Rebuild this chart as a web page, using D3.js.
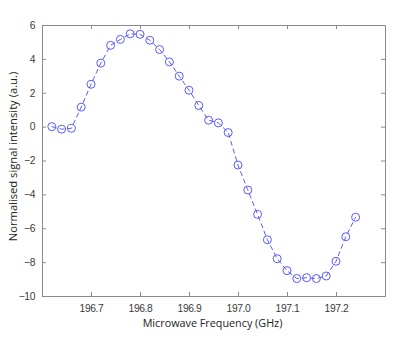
<!DOCTYPE html>
<html>
<head>
<meta charset="utf-8">
<script src="https://cdn.jsdelivr.net/npm/d3@7"></script>
<style>
  body { margin: 0; background: #fff; }
  svg { display: block; }
</style>
</head>
<body>
<svg id="main-svg" width="400" height="338"></svg>
<script>
// frequencies (GHz), sampled every 0.02
const freqs = [196.62, 196.64, 196.66, 196.68, 196.70, 196.72, 196.74, 196.76, 196.78, 196.80,
  196.82, 196.84, 196.86, 196.88, 196.90, 196.92, 196.94, 196.96, 196.98, 197.00,
  197.02, 197.04, 197.06, 197.08, 197.10, 197.12, 197.14, 197.16, 197.18, 197.20,
  197.22, 197.24];
// normalised signal (a.u.)
const signal = [0.0, -0.15, -0.1, 1.15, 2.5, 3.75, 4.8, 5.15, 5.48, 5.45,
  5.1, 4.55, 3.82, 2.98, 2.15, 1.25, 0.38, 0.22, -0.35, -2.27,
  -3.74, -5.18, -6.68, -7.8, -8.5, -8.97, -8.92, -8.97, -8.82, -7.95,
  -6.5, -5.35];
const xTicks = [196.7, 196.8, 196.9, 197.0, 197.1, 197.2];
const yTicks = [-10, -8, -6, -4, -2, 0, 2, 4, 6];

const margin = { top: 25, right: 15, bottom: 42, left: 42 };
const width = 400 - margin.left - margin.right;
const height = 338 - margin.top - margin.bottom;

const svg = d3.select("#main-svg");
const g = svg.append("g").attr("transform", `translate(${margin.left},${margin.top})`);

const x = d3.scaleLinear().domain([196.6, 197.3]).range([0, width]);
const y = d3.scaleLinear().domain([-10, 6]).range([height, 0]);

const axisColor = "#8a8a8a";
const textColor = "#3a3a3a";

// axes (MATLAB style box, ticks pointing in)
function styleAxis(sel) {
    sel.select(".domain").attr("stroke", axisColor);
    sel.selectAll(".tick line").attr("stroke", axisColor);
    sel.selectAll(".tick text")
        .attr("fill", textColor)
        .attr("font-family", "Liberation Sans, Arial, sans-serif")
        .attr("font-size", "10.3px")
        .attr("letter-spacing", "-0.4px");
}

g.append("g")
    .attr("transform", `translate(0,${height})`)
    .call(d3.axisBottom(x).tickValues(xTicks).tickFormat(d3.format(".1f")).tickSizeInner(-4).tickSizeOuter(0).tickPadding(9))
    .call(styleAxis);

g.append("g")
    .call(d3.axisTop(x).tickValues(xTicks).tickSizeInner(-4).tickSizeOuter(0).tickFormat(""))
    .call(styleAxis);

g.append("g")
    .call(d3.axisLeft(y).tickValues(yTicks).tickSizeInner(-4).tickSizeOuter(0).tickPadding(7))
    .call(styleAxis);

g.append("g")
    .attr("transform", `translate(${width},0)`)
    .call(d3.axisRight(y).tickValues(yTicks).tickSizeInner(-4).tickSizeOuter(0).tickFormat(""))
    .call(styleAxis);

// dashed line
const line = d3.line()
    .x((d, i) => x(freqs[i]))
    .y(d => y(d));

g.append("path")
    .datum(signal)
    .attr("fill", "none")
    .attr("stroke", "#5a5aff")
    .attr("stroke-width", 1)
    .attr("stroke-dasharray", "5,3")
    .attr("d", line);

g.selectAll(".pt")
    .data(signal)
    .enter()
    .append("circle")
    .attr("class", "pt")
    .attr("cx", (d, i) => x(freqs[i]))
    .attr("cy", d => y(d))
    .attr("r", 4)
    .attr("fill", "none")
    .attr("stroke", "#5a5aff")
    .attr("stroke-width", 1);

// labels
g.append("text")
    .attr("x", width / 2 - 1)
    .attr("y", height + 31)
    .attr("text-anchor", "middle")
    .attr("font-family", "Open Sans, sans-serif")
    .attr("font-size", "10.8px")
    .attr("fill", "#222")
    .text("Microwave Frequency (GHz)");

g.append("text")
    .attr("transform", "rotate(-90)")
    .attr("x", -height / 2 + 4)
    .attr("y", -margin.left + 17)
    .attr("text-anchor", "middle")
    .attr("font-family", "Open Sans, sans-serif")
    .attr("font-size", "11.2px")
    .attr("fill", "#222")
    .text("Normalised signal intensity (a.u.)");
</script>
</body>
</html>
